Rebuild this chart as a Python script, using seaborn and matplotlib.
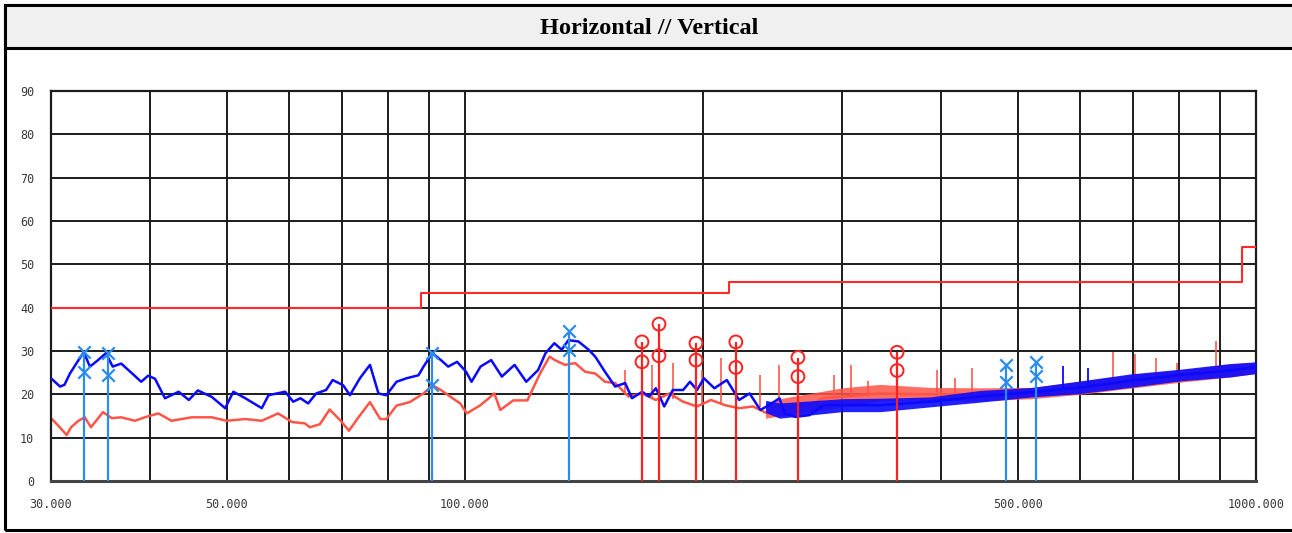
import numpy as np
import pandas as pd
import matplotlib
matplotlib.use("Agg")
import matplotlib.pyplot as plt
import seaborn as sns
from matplotlib.patches import Rectangle
from matplotlib.ticker import FixedLocator, NullLocator, MultipleLocator

# ========================
# Data (MHz, dBuV/m)
# ========================
blue_freq = [30.0, 30.8, 31.2, 31.7, 32.5, 33.0, 33.6, 34.4, 35.2, 35.9, 36.8, 38.0, 39.0, 39.8,
             40.6, 41.8, 43.5, 44.8, 46.0, 47.9, 49.8, 51.0, 52.8, 55.4, 56.5, 59.3, 60.7, 62.0,
             63.4, 64.9, 66.8, 68.1, 70.2, 71.6, 73.7, 75.9, 77.8, 79.6, 82.0, 84.4, 87.4, 88.7,
             91.0, 93.3, 95.3, 97.8, 100.4, 102.0, 104.7, 108.0, 111.4, 115.6, 119.6, 123.8,
             126.5, 129.8, 132.6, 135.2, 139.2, 143.4, 146.2, 150.4, 154.9, 159.5, 162.7, 167.6,
             170.9, 174.4, 178.7, 183.2, 188.8, 192.6, 196.6, 200.6, 206.8, 214.4, 222.2, 229.1,
             236.4, 242.4, 249.9, 253.7, 261.6, 272.6, 284.0, 300.0, 335.0, 387.0, 448.0, 521.0,
             600.0, 693.0, 802.0, 927.0, 1000.0]
blue_level = [23.7, 21.8, 22.2, 24.8, 27.9, 29.7, 26.4, 27.9, 29.5, 26.4, 27.1, 24.8, 22.9, 24.3,
              23.6, 19.1, 20.6, 18.7, 20.9, 19.4, 16.8, 20.6, 19.1, 16.8, 19.8, 20.6, 18.3, 19.1,
              17.9, 20.2, 21.0, 23.3, 22.1, 19.8, 23.7, 26.8, 20.2, 19.8, 22.9, 23.7, 24.4, 26.4,
              29.5, 27.9, 26.4, 27.5, 25.2, 22.9, 26.4, 27.9, 24.1, 26.8, 22.9, 25.6,
              29.5, 31.8, 30.3, 32.5, 32.2, 30.3, 28.7, 25.2, 21.8, 22.6, 19.1, 20.6,
              19.5, 21.4, 17.2, 21.0, 21.0, 22.9, 21.0, 23.7, 21.4, 23.3, 18.7, 20.2,
              16.4, 17.5, 19.1, 15.6, 14.8, 15.2, 17.5, 17.5, 17.5, 18.3, 19.5, 20.5,
              21.6, 23.1, 24.5, 25.5, 26.3]

red_freq = [30.0, 30.6, 31.4, 31.8, 32.5, 33.1, 33.7, 34.9, 35.8, 36.8, 38.3, 39.4, 41.0, 42.6,
            45.2, 47.9, 50.0, 52.8, 55.4, 58.1, 60.5, 62.8, 63.7, 65.6, 67.5, 69.7, 71.4, 73.4,
            75.9, 78.2, 79.6, 82.0, 85.2, 88.7, 91.0, 93.3, 96.0, 98.7, 100.6, 104.7, 109.0,
            110.9, 115.2, 120.0, 124.5, 128.0, 130.0, 133.9, 137.9, 142.0, 146.2, 150.4, 154.9,
            161.1, 167.6, 174.4, 181.4, 188.8, 196.6, 204.7, 213.3, 222.2, 231.4, 241.2, 251.2,
            261.6, 272.6, 284.0, 335.0, 387.0, 448.0, 521.0, 600.0, 693.0, 802.0, 927.0, 1000.0]
red_level = [14.5, 12.9, 10.6, 12.4, 13.9, 14.7, 12.4, 15.9, 14.5, 14.7, 13.9, 14.7, 15.6, 13.9,
             14.7, 14.7, 13.9, 14.3, 13.9, 15.6, 13.6, 13.3, 12.4, 13.1, 16.5, 13.9, 11.6, 14.7,
             18.2, 14.3, 14.3, 17.4, 18.2, 20.2, 22.1, 21.0, 19.4, 17.9, 15.6, 17.5, 20.2,
             16.4, 18.6, 18.6, 24.8, 28.7, 27.9, 26.8, 27.2, 25.2, 24.8, 22.9, 22.6,
             19.5, 20.2, 18.7, 20.2, 18.3, 17.2, 18.7, 17.5, 16.8, 17.2, 15.6, 16.4,
             16.8, 17.5, 19.1, 20.2, 20.0, 20.0, 20.2, 21.5, 22.9, 24.2, 25.5, 26.3]

# spread of the noisy band (low, high) at the higher frequencies
band_freq = [240.0, 250.0, 300.0, 335.0, 387.0, 448.0, 521.0, 600.0, 693.0, 802.0, 927.0, 1000.0]
blue_low = [15.8, 14.5, 16.0, 16.0, 17.1, 18.2, 19.4, 20.2, 21.6, 23.1, 24.0, 24.8]
blue_high = [18.6, 18.0, 19.0, 19.1, 19.4, 20.9, 21.6, 23.1, 24.7, 25.8, 27.1, 27.5]
red_low = [14.5, 15.0, 17.0, 18.5, 18.5, 18.5, 19.0, 20.0, 21.4, 22.8, 24.0, 24.8]
red_high = [18.0, 19.0, 21.5, 22.3, 21.6, 21.5, 21.6, 23.0, 24.5, 25.6, 27.0, 27.4]

# narrow emission spikes
red_spike_freq = [159.5, 172.6, 183.2, 199.5, 211.1, 236.4, 249.9, 263.8, 293.0, 308.0, 323.0,
                  395.0, 416.0, 438.0, 659.0, 703.0, 747.0, 795.0, 891.0]
red_spike_top = [25.6, 26.8, 27.2, 25.6, 28.3, 24.4, 26.8, 20.6, 24.5, 26.8, 23.0,
                 25.6, 23.7, 26.0, 29.8, 29.2, 28.3, 27.2, 32.2]
red_spike_base = [20.0, 19.0, 19.0, 18.0, 18.0, 17.0, 17.0, 17.0, 19.0, 19.5, 19.5,
                  20.0, 20.0, 20.0, 23.0, 23.0, 24.0, 24.5, 25.5]
blue_spike_freq = [570.0, 613.0]
blue_spike_top = [26.6, 26.0]
blue_spike_base = [21.0, 22.0]

# limit line (steps)
limit_freq = [30.0, 88.0, 216.0, 960.0, 1000.0]
limit_level = [40.0, 43.5, 46.0, 54.0, 54.0]

# final markers: (peak, second reading)
blue_mark_freq = [33.0, 35.4, 91.0, 135.3, 483.0, 527.0]
blue_mark_peak = [29.7, 29.5, 29.5, 34.6, 26.8, 27.5]
blue_mark_qp = [25.2, 24.5, 22.2, 30.2, 22.9, 24.3]
red_mark_freq = [167.5, 176.0, 196.0, 220.1, 263.7, 351.9]
red_mark_peak = [32.1, 36.2, 31.8, 32.1, 28.5, 29.7]
red_mark_qp = [27.5, 28.9, 27.9, 26.2, 24.1, 25.5]

x_grid = [30, 40, 50, 60, 70, 80, 90, 100, 200, 300, 400, 500, 600, 700, 800, 900, 1000]
x_labels = {30: "30.000", 50: "50.000", 100: "100.000", 500: "500.000", 1000: "1000.000"}
y_ticks = list(range(0, 100, 10))

# ========================
# Figure
# ========================
sns.set_style("white")
plt.rcParams["font.family"] = ["DejaVu Sans Mono", "DejaVu Sans"]

W, H = 1292, 533
fig = plt.figure(figsize=(W / 100, H / 100), dpi=100)

# frame and title band
fig.patches.append(Rectangle((5 / W, 3 / H), 1.1, 1 - 8 / H, transform=fig.transFigure,
                             fill=False, lw=2.2, ec="black", zorder=0))
fig.patches.append(Rectangle((5 / W, 1 - 48 / H), 1.1, 43 / H, transform=fig.transFigure,
                             fc="#f0f0f0", lw=2.2, ec="black", zorder=0))
fig.text(649 / W, 1 - 28 / H, "Horizontal // Vertical", ha="center", va="center",
         fontsize=17.5, fontweight="bold", color="black",
         family=["Liberation Serif", "DejaVu Serif"])

ax = fig.add_axes([51 / W, 1 - 481 / H, 1205 / W, 390 / H])
ax.set_xscale("log")
ax.set_xlim(30, 1000)
ax.set_ylim(0, 90)

# grid
ax.xaxis.set_major_locator(FixedLocator(x_grid))
ax.xaxis.set_minor_locator(NullLocator())
ax.set_xticklabels([x_labels.get(v, "") for v in x_grid])
ax.set_yticks(y_ticks)
ax.yaxis.set_minor_locator(MultipleLocator(2))
ax.grid(True, which="major", color="#1c1c1c", lw=1.4, zorder=0)
ax.set_axisbelow(True)
ax.tick_params(axis="x", which="major", length=0, pad=12, labelsize=8.5, labelcolor="#3a3a3a")
ax.tick_params(axis="y", which="major", length=0, pad=12, labelsize=8.5, labelcolor="#3a3a3a")
ax.tick_params(axis="y", which="minor", direction="in", length=8.5, width=1.2, color="#1c1c1c")
for s in ax.spines.values():
    s.set_color("#1c1c1c")
    s.set_linewidth(1.6)
ax.spines["bottom"].set_color("#444444")
ax.spines["bottom"].set_linewidth(2.2)

red_col = "#ff5548"
blue_col = "#0a0aff"

# noisy bands
ax.fill_between(band_freq, red_low, red_high, color=red_col, alpha=0.85, lw=0, zorder=2)
ax.vlines(red_spike_freq, red_spike_base, red_spike_top, color=red_col, lw=1.3, alpha=0.9, zorder=2)
ax.fill_between(band_freq, blue_low, blue_high, color=blue_col, alpha=0.9, lw=0, zorder=3)
ax.vlines(blue_spike_freq, blue_spike_base, blue_spike_top, color=blue_col, lw=1.3, zorder=3)

# traces
red_df = pd.DataFrame({"freq": red_freq, "level": red_level})
blue_df = pd.DataFrame({"freq": blue_freq, "level": blue_level})
sns.lineplot(data=red_df, x="freq", y="level", color=red_col, lw=1.8, sort=False,
             estimator=None, ax=ax, zorder=2)
sns.lineplot(data=blue_df, x="freq", y="level", color=blue_col, lw=1.8, sort=False,
             estimator=None, ax=ax, zorder=3)

# limit line
lim_df = pd.DataFrame({"freq": limit_freq, "level": limit_level})
sns.lineplot(data=lim_df, x="freq", y="level", color="#ff2a2a", lw=1.5, drawstyle="steps-post",
             sort=False, estimator=None, ax=ax, zorder=4)

# marker stems
ax.vlines(blue_mark_freq, 0, blue_mark_peak, color="#2a8cf0", lw=1.6, zorder=5)
ax.vlines(red_mark_freq, 0, red_mark_peak, color="#ff2020", lw=1.6, zorder=5)

bm = pd.DataFrame({"freq": blue_mark_freq * 2, "level": blue_mark_peak + blue_mark_qp})
rm = pd.DataFrame({"freq": red_mark_freq * 2, "level": red_mark_peak + red_mark_qp})
sns.scatterplot(data=bm, x="freq", y="level", marker="x", s=80, color="#2a8cf0",
                linewidth=1.6, ax=ax, zorder=6)
ax.scatter(rm["freq"], rm["level"], marker="o", s=85, facecolors="none",
           edgecolors="#ff2020", linewidths=1.4, zorder=6)

ax.set_xlabel("")
ax.set_ylabel("")

fig.savefig("out.png", dpi=100)
